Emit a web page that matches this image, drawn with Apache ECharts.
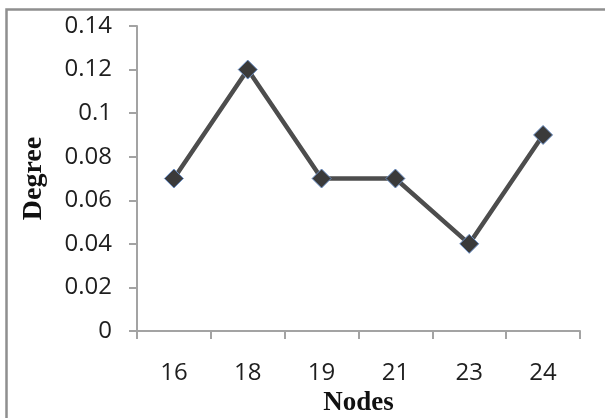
<!DOCTYPE html>
<html>
<head>
<meta charset="utf-8">
<script src="https://cdn.jsdelivr.net/npm/echarts@6/dist/echarts.min.js"></script>
<style>html,body{margin:0;padding:0;background:#fff}#c{width:605px;height:418px}</style>
</head>
<body>
<div id="c"></div>
<script>
const categories = ['16', '18', '19', '21', '23', '24'];
const degreeValues = [0.07, 0.12, 0.07, 0.07, 0.04, 0.09];
const yTicks = { min: 0, max: 0.14, interval: 0.02 };

const chart = echarts.init(document.getElementById('c'), null, { renderer: 'canvas' });
chart.setOption({
  animation: false,
  backgroundColor: '#ffffff',
  graphic: [{
    type: 'rect',
    shape: { x: 6.5, y: 9.5, width: 700, height: 500 },
    style: { fill: 'none', stroke: '#8f8f8f', lineWidth: 2.5 },
    silent: true
  }],
  grid: { left: 137, top: 26, right: 25, bottom: 87, containLabel: false, outerBoundsMode: 'none' },
  xAxis: {
    type: 'category',
    data: categories,
    boundaryGap: true,
    name: 'Nodes',
    nameLocation: 'middle',
    nameGap: 59,
    nameTextStyle: { fontFamily: 'Liberation Serif', fontWeight: 'bold', fontSize: 27, color: '#111' },
    axisLine: { show: true, lineStyle: { color: '#a3a3a3', width: 2 } },
    axisTick: { show: true, length: 8, alignWithLabel: false, lineStyle: { color: '#a3a3a3', width: 2 } },
    axisLabel: { fontFamily: 'Open Sans', fontSize: 24, color: '#1e1e1e', margin: 30 },
    splitLine: { show: false }
  },
  yAxis: {
    type: 'value',
    min: yTicks.min, max: yTicks.max, interval: yTicks.interval,
    name: 'Degree',
    nameLocation: 'middle',
    nameGap: 89,
    nameRotate: 90,
    nameTextStyle: { fontFamily: 'Liberation Serif', fontWeight: 'bold', fontSize: 28, color: '#111' },
    axisLine: { show: true, lineStyle: { color: '#a3a3a3', width: 2 } },
    axisTick: { show: true, length: 8, lineStyle: { color: '#a3a3a3', width: 2 } },
    axisLabel: { fontFamily: 'Open Sans', fontSize: 24, color: '#1e1e1e', margin: 25 },
    splitLine: { show: false }
  },
  series: [{
    type: 'line',
    data: degreeValues,
    symbol: 'diamond',
    symbolSize: 19,
    lineStyle: { color: '#4d4d4d', width: 4.5 },
    itemStyle: { color: '#3a3a3a', borderColor: '#6b8fc4', borderWidth: 1 },
    z: 3
  }]
});
</script>
</body>
</html>
